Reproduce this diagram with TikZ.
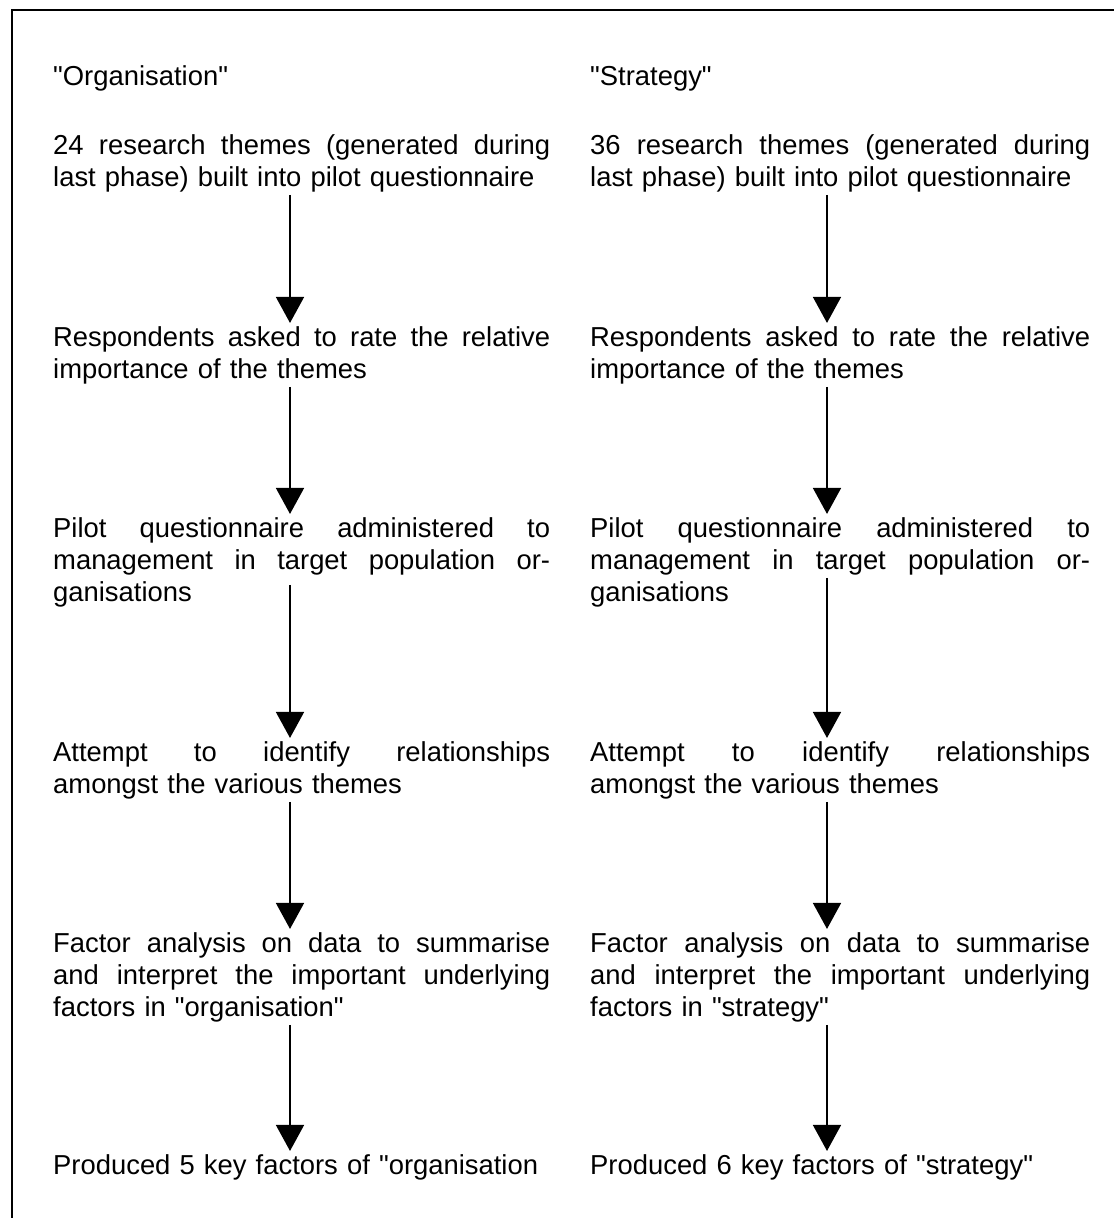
\documentclass[tikz,border=0pt]{standalone}
\usepackage{fontspec}
\setmainfont{Liberation Sans}
\usetikzlibrary{arrows.meta}
\newlength{\colw}
\newcommand{\fullline}[1]{\makebox[\colw][s]{\spaceskip=0pt\xspaceskip=0pt\relax #1}}
\newcommand{\q}{\textquotedbl}
\begin{document}
\begin{tikzpicture}[x=1pt,y=-1pt]

    \tikzset{
      stage/.style={
        anchor=base west,
        inner sep=3pt,
        align=left,
        font=\fontsize{27.4}{32}\selectfont,
      },
      lstage/.style={stage, text width=497pt,
        execute at begin node={\setlength{\colw}{497pt}}},
      rstage/.style={stage, text width=500pt,
        execute at begin node={\setlength{\colw}{500pt}}},
      flow/.style={
        line width=1.6pt,
        -{Triangle[width=28pt,length=26pt]},
      },
    }
    \useasboundingbox (0,0) rectangle (1114,1218);
    \draw[line width=1.6pt] (12,1218) -- (12,10) -- (1114,10);

	\coordinate (lx) at (290,0);
	\coordinate (rx) at (827,0);

	% left column
	\node[lstage] (lhead) at (50,85) {\q Organisation\q};
	\node[lstage] (l1) at (50,154) {\fullline{24 research themes (generated during}\\last phase) built into pilot questionnaire};
	\node[lstage] (l2) at (50,346) {\fullline{Respondents asked to rate the relative}\\importance of the themes};
	\node[lstage] (l3) at (50,537) {\fullline{Pilot questionnaire administered to}\\\fullline{management in target population or-}\\ganisations};
	\node[lstage] (l4) at (50,761) {\fullline{Attempt to identify relationships}\\amongst the various themes};
	\node[lstage] (l5) at (50,952) {\fullline{Factor analysis on data to summarise}\\\fullline{and interpret the important underlying}\\factors in \q organisation\q};
	\node[lstage] (l6) at (50,1174) {Produced 5 key factors of \q organisation};

	% right column
	\node[rstage] (rhead) at (587,85) {\q Strategy\q};
	\node[rstage] (r1) at (587,154) {\fullline{36 research themes (generated during}\\last phase) built into pilot questionnaire};
	\node[rstage] (r2) at (587,346) {\fullline{Respondents asked to rate the relative}\\importance of the themes};
	\node[rstage] (r3) at (587,537) {\fullline{Pilot questionnaire administered to}\\\fullline{management in target population or-}\\ganisations};
	\node[rstage] (r4) at (587,761) {\fullline{Attempt to identify relationships}\\amongst the various themes};
	\node[rstage] (r5) at (587,952) {\fullline{Factor analysis on data to summarise}\\\fullline{and interpret the important underlying}\\factors in \q strategy\q};
	\node[rstage] (r6) at (587,1174) {Produced 6 key factors of \q strategy\q};

	\draw[flow] (l1.south -| lx) -- (l2.north -| lx);
	\draw[flow] (l2.south -| lx) -- (l3.north -| lx);
	\draw[flow, shorten <=-25pt] (l3.south -| lx) -- (l4.north -| lx);
	\draw[flow] (l4.south -| lx) -- (l5.north -| lx);
	\draw[flow] (l5.south -| lx) -- (l6.north -| lx);

	\draw[flow] (r1.south -| rx) -- (r2.north -| rx);
	\draw[flow] (r2.south -| rx) -- (r3.north -| rx);
	\draw[flow, shorten <=-32pt] (r3.south -| rx) -- (r4.north -| rx);
	\draw[flow] (r4.south -| rx) -- (r5.north -| rx);
	\draw[flow] (r5.south -| rx) -- (r6.north -| rx);

\end{tikzpicture}
\end{document}
